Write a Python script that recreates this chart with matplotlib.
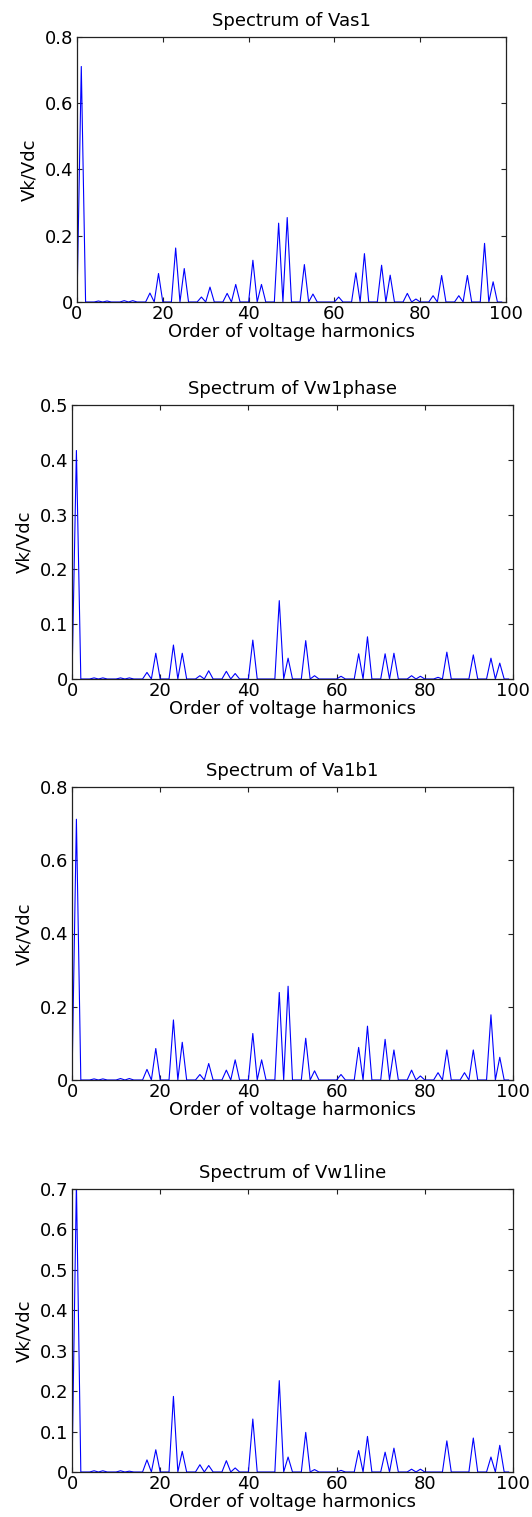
import numpy as np
import matplotlib
matplotlib.use("Agg")
import matplotlib.pyplot as plt
from matplotlib.ticker import FuncFormatter

# harmonic orders shown on the x axis (0..99), only odd orders carry energy
orders = np.arange(0, 100)

# odd harmonic orders that have a nonzero amplitude
odd_orders = [1, 5, 7, 11, 13, 17, 19, 23, 25, 29, 31, 35, 37, 41, 43, 47, 49,
              53, 55, 61, 65, 67, 71, 73, 77, 79, 83, 85, 89, 91, 95, 97]

# amplitudes Vk/Vdc, same order as odd_orders
vas1 = [0.711, 0.003, 0.003, 0.004, 0.004, 0.027, 0.086, 0.163, 0.101, 0.015, 0.045,
        0.026, 0.053, 0.126, 0.053, 0.238, 0.255, 0.113, 0.024, 0.015, 0.088, 0.146,
        0.111, 0.081, 0.026, 0.009, 0.019, 0.080, 0.019, 0.080, 0.177, 0.061]

vw1phase = [0.417, 0.002, 0.002, 0.002, 0.002, 0.012, 0.047, 0.062, 0.047, 0.006, 0.015,
            0.014, 0.010, 0.071, 0.0, 0.143, 0.038, 0.070, 0.006, 0.005, 0.046, 0.077,
            0.046, 0.047, 0.006, 0.005, 0.003, 0.049, 0.0, 0.044, 0.038, 0.029]

va1b1 = [0.712, 0.003, 0.003, 0.004, 0.004, 0.029, 0.086, 0.164, 0.103, 0.015, 0.045,
         0.027, 0.055, 0.127, 0.055, 0.239, 0.256, 0.114, 0.025, 0.015, 0.089, 0.147,
         0.111, 0.082, 0.027, 0.011, 0.020, 0.082, 0.020, 0.082, 0.178, 0.062]

vw1line = [0.715, 0.003, 0.003, 0.003, 0.002, 0.030, 0.055, 0.187, 0.051, 0.018, 0.016,
           0.028, 0.010, 0.131, 0.0, 0.226, 0.037, 0.098, 0.006, 0.004, 0.053, 0.088,
           0.049, 0.059, 0.007, 0.007, 0.0, 0.077, 0.0, 0.084, 0.037, 0.066]

titles = ["Spectrum of Vas1", "Spectrum of Vw1phase", "Spectrum of Va1b1", "Spectrum of Vw1line"]
ymaxes = [0.8, 0.5, 0.8, 0.7]
ysteps = [0.2, 0.1, 0.2, 0.1]
xticks = [0, 20, 40, 60, 80, 100]


def spectrum(amps):
    v = np.zeros(len(orders))
    for h, a in zip(odd_orders, amps):
        v[h] = a
    return v


# axes boxes in pixels: left, right, top, bottom
W, H = 532, 1517
boxes = [(77, 506, 37, 302),
         (72, 513, 405, 679),
         (72, 513, 787, 1080),
         (72, 513, 1189, 1472)]

# the reference text is wide and short, DejaVu Sans comes closer than Arial here
plt.rcParams['font.family'] = ['DejaVu Sans']
fs = 13

fig = plt.figure(figsize=(W / 100, H / 100), dpi=100)

for series, title, ymax, ystep, box in zip([vas1, vw1phase, va1b1, vw1line], titles, ymaxes, ysteps, boxes):
    l, r, t, b = box
    ax = fig.add_axes([l / W, 1 - b / H, (r - l) / W, (b - t) / H])
    ax.plot(orders, spectrum(series), color='#0000ff', linewidth=0.8)
    ax.set_xlim(0, 100)
    ax.set_ylim(0, ymax)
    ax.set_xticks(xticks)
    ax.set_yticks(np.round(np.arange(0, ymax + ystep / 2, ystep), 2))
    ax.yaxis.set_major_formatter(FuncFormatter(lambda v, p: '%g' % v))
    ax.tick_params(direction='in', top=True, right=True, length=3.5, width=0.8,
                   labelsize=fs, colors='#222222', labelcolor='black', pad=2.5)
    for s in ax.spines.values():
        s.set_color('#222222')
        s.set_linewidth(0.9)
    ax.set_title(title, fontsize=fs, pad=8)
    ax.set_xlabel("Order of voltage harmonics", fontsize=fs, labelpad=0)
    ax.set_ylabel("Vk/Vdc", fontsize=fs, labelpad=5)

fig.savefig("out.png", dpi=100)
